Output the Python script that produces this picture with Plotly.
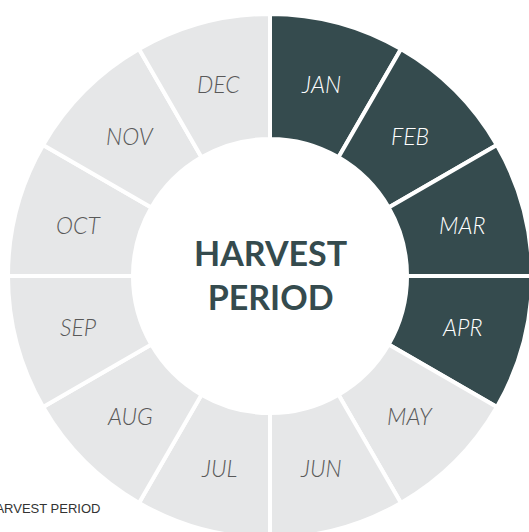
import math
import plotly.graph_objects as go

months = ["JAN", "FEB", "MAR", "APR", "MAY", "JUN", "JUL", "AUG", "SEP", "OCT", "NOV", "DEC"]
values = [1] * 12
harvest = [True, True, True, True, False, False, False, False, False, False, False, False]

DARK = "#354b4e"
LIGHT = "#e6e7e8"

colors = [DARK if h else LIGHT for h in harvest]
text_colors = ["#ffffff" if h else "#595959" for h in harvest]

W_PLOT, H_PLOT = 524, 536
R_OUT = min(W_PLOT, H_PLOT) / 2
LABEL_R = 0.757  # fraction of outer radius

fig = go.Figure(go.Pie(
    labels=months,
    values=values,
    sort=False,
    direction="clockwise",
    rotation=0,
    hole=0.523,
    marker=dict(colors=colors, line=dict(color="#ffffff", width=4)),
    textinfo="none",
    showlegend=False,
    hoverinfo="label",
))

# month labels, placed at the middle angle of each slice
total = sum(values)
cum = 0
for m, v, c in zip(months, values, text_colors):
    mid = (cum + v / 2) / total * 2 * math.pi
    cum += v
    dx = LABEL_R * R_OUT * math.sin(mid)
    dy = LABEL_R * R_OUT * math.cos(mid)
    fig.add_annotation(
        text=m, x=0.5 + dx / W_PLOT, y=0.5 + dy / H_PLOT, xref="paper", yref="paper",
        showarrow=False, xanchor="center", yanchor="middle",
        font=dict(family="Lato", size=23, color=c, style="italic", weight=300),
    )

fig.add_annotation(
    text="<b>HARVEST<br>PERIOD</b>", x=0.5, y=0.503, xref="paper", yref="paper",
    showarrow=False, font=dict(family="Lato", size=34, color=DARK),
)
fig.add_annotation(
    text="HARVEST PERIOD", x=-0.045, y=0.067, xref="paper", yref="paper",
    xanchor="left", yanchor="middle", showarrow=False,
    font=dict(family="Liberation Sans", size=13, color="#333333"),
)

fig.update_layout(
    width=540, height=552,
    margin=dict(l=8, r=8, t=8, b=8),
    paper_bgcolor="#ffffff",
    plot_bgcolor="#ffffff",
)

fig.write_html(
    "out.html",
    config={"displayModeBar": False},
    post_script="document.body.style.margin='0';document.documentElement.style.overflow='hidden';document.body.style.overflow='hidden';",
)
